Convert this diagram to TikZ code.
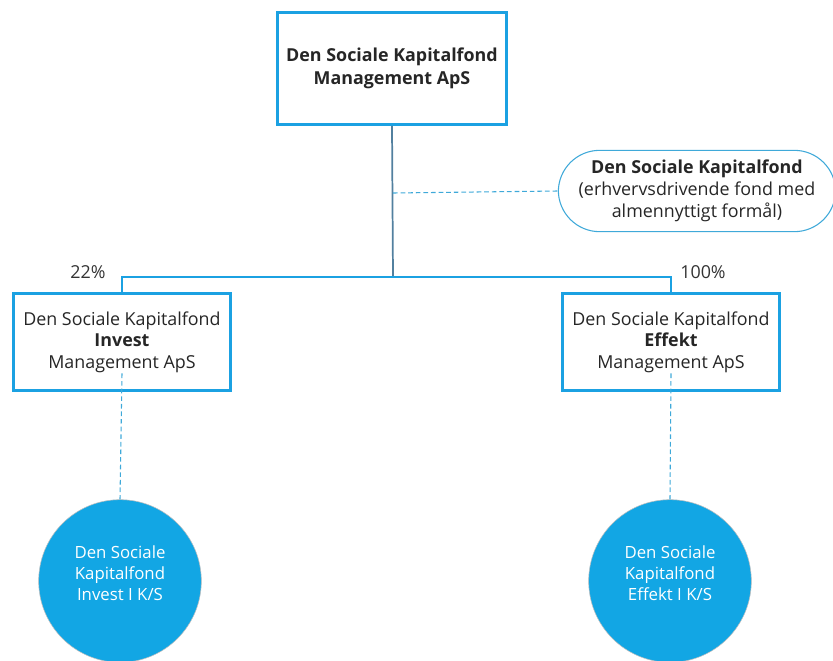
\documentclass[tikz,border=0pt]{standalone}
\usepackage{fontspec}
\setmainfont{Open Sans}
\usetikzlibrary{positioning}
\definecolor{boxblue}{HTML}{1BA1E2}
\definecolor{discblue}{HTML}{12A6E4}
\definecolor{trunkgray}{HTML}{52809F}
\definecolor{dashblue}{HTML}{3FA9D9}
\tikzset{company/.style={draw=boxblue, line width=2.2pt, fill=white, align=center,
         font=\fontsize{13.4}{16.2}\selectfont, text=black!85},
         fund/.style={draw=dashblue, line width=0.8pt, fill=white, align=center,
         rounded corners=31pt, font=\fontsize{13.4}{16.5}\selectfont, text=black!85},
         disc/.style={circle, fill=discblue, draw=black!25, line width=0.4pt,
         minimum size=122pt, inner sep=0pt},
         disctext/.style={align=center, text=white, font=\fontsize{12.6}{15.7}\selectfont},
         branch/.style={draw=boxblue, line width=2.2pt},
         trunk/.style={draw=trunkgray, line width=1.3pt},
         link/.style={draw=dashblue, line width=0.8pt, dash pattern=on 3.5pt off 2.2pt},
         share/.style={font=\fontsize{13.4}{15}\selectfont, text=black!80}}

\begin{document}
\begin{tikzpicture}[x=0.75pt,y=-0.75pt]
      \useasboundingbox (0,0) rectangle (833,661);
      \clip (0,0) rectangle (833,661);

      \node[company, minimum width=172pt, minimum height=84pt, font=\bfseries\fontsize{13.4}{17}\selectfont]
        (top) at (392,68.5) {Den Sociale Kapitalfond\\Management ApS};
      \node[fund, minimum width=208pt, minimum height=61pt] (found) at (697,191)
        {\textbf{Den Sociale Kapitalfond}\\(erhvervsdrivende fond med\\almennyttigt formål)};

      \node[company, minimum width=163pt, minimum height=73pt] (invest) at (122,342)
        {Den Sociale Kapitalfond\\\textbf{Invest}\\Management ApS};
      \node[company, minimum width=163pt, minimum height=73pt] (effekt) at (671,342)
        {Den Sociale Kapitalfond\\\textbf{Effekt}\\Management ApS};

      \node[disc, label={[disctext, yshift=6pt]center:Den Sociale\\Kapitalfond\\Invest I K/S}]
        (investks) at (120,581) {};
      \node[disc, label={[disctext, yshift=6pt]center:Den Sociale\\Kapitalfond\\Effekt I K/S}]
        (effektks) at (670,581) {};

      \coordinate (hub) at (393,277);
      \coordinate (tap) at (393,193);

      \draw[trunk] (top.south) -- (hub);
      \draw[branch] (invest.north) |- (hub) -| (effekt.north);
      \draw[link] (tap) -- (found.west);
      \draw[link] ([yshift=14pt]invest.south) -- (investks.north);
      \draw[link] ([yshift=14pt]effekt.south) -- (effektks.north);

      \node[share] (pctinvest) at (88,272) {22\%};
      \node[share] (pcteffekt) at (703,272) {100\%};
    \end{tikzpicture}
\end{document}
